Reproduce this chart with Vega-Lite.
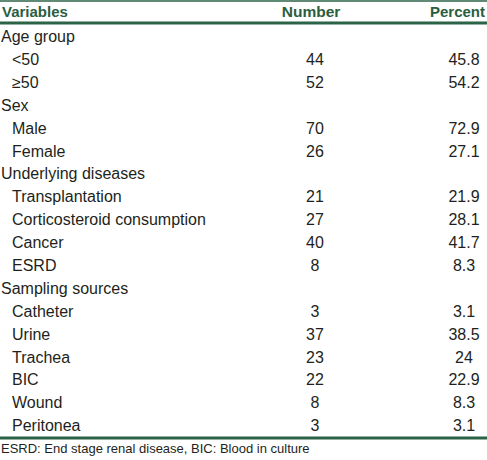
{
  "$schema": "https://vega.github.io/schema/vega-lite/v6.json",
  "width": 487,
  "height": 460,
  "padding": 0,
  "autosize": "none",
  "background": "white",
  "config": {"view": {"stroke": null}},
  "datasets": {
    "rows": [
      {"row": 1, "level": 0, "label": "Age group", "number": null, "percent": null},
      {"row": 2, "level": 1, "label": "<50", "number": "44", "percent": "45.8"},
      {"row": 3, "level": 1, "label": "≥50", "number": "52", "percent": "54.2"},
      {"row": 4, "level": 0, "label": "Sex", "number": null, "percent": null},
      {"row": 5, "level": 1, "label": "Male", "number": "70", "percent": "72.9"},
      {"row": 6, "level": 1, "label": "Female", "number": "26", "percent": "27.1"},
      {"row": 7, "level": 0, "label": "Underlying diseases", "number": null, "percent": null},
      {"row": 8, "level": 1, "label": "Transplantation", "number": "21", "percent": "21.9"},
      {"row": 9, "level": 1, "label": "Corticosteroid consumption", "number": "27", "percent": "28.1"},
      {"row": 10, "level": 1, "label": "Cancer", "number": "40", "percent": "41.7"},
      {"row": 11, "level": 1, "label": "ESRD", "number": "8", "percent": "8.3"},
      {"row": 12, "level": 0, "label": "Sampling sources", "number": null, "percent": null},
      {"row": 13, "level": 1, "label": "Catheter", "number": "3", "percent": "3.1"},
      {"row": 14, "level": 1, "label": "Urine", "number": "37", "percent": "38.5"},
      {"row": 15, "level": 1, "label": "Trachea", "number": "23", "percent": "24"},
      {"row": 16, "level": 1, "label": "BIC", "number": "22", "percent": "22.9"},
      {"row": 17, "level": 1, "label": "Wound", "number": "8", "percent": "8.3"},
      {"row": 18, "level": 1, "label": "Peritonea", "number": "3", "percent": "3.1"}
    ],
    "header": [{"row": -0.1, "c1": "Variables", "c2": "Number", "c3": "Percent"}],
    "footer": [{"row": 19, "note": "ESRD: End stage renal disease, BIC: Blood in culture"}],
    "rules": [{"rule": "top", "row": -0.572}, {"rule": "head", "row": 0.389}, {"rule": "bottom", "row": 18.51}]
  },
  "layer": [
    {
      "data": {"name": "rules"},
      "transform": [{"filter": "datum.rule == 'top'"}],
      "mark": {"type": "rule", "color": "#2b6347", "strokeWidth": 1.5},
      "encoding": {"y": {"field": "row", "type": "quantitative", "scale": {"domain": [-0.616, 19.472], "reverse": true, "nice": false, "zero": false}, "axis": null}}
    },
    {
      "data": {"name": "rules"},
      "transform": [{"filter": "datum.rule != 'top'"}],
      "mark": {"type": "rule", "color": "#2b6347", "strokeWidth": 3},
      "encoding": {"y": {"field": "row", "type": "quantitative", "axis": null}}
    },
    {
      "data": {"name": "header"},
      "mark": {"type": "text", "align": "left", "baseline": "middle", "font": "Liberation Sans", "fontSize": 15, "fontWeight": "bold", "color": "#2b5e3f"},
      "encoding": {
        "x": {"datum": 2, "type": "quantitative", "scale": {"domain": [0, 487], "nice": false, "zero": false}, "axis": null},
        "y": {"field": "row", "type": "quantitative", "axis": null},
        "text": {"field": "c1"}
      }
    },
    {
      "data": {"name": "header"},
      "mark": {"type": "text", "align": "center", "baseline": "middle", "font": "Liberation Sans", "fontSize": 15.5, "fontWeight": "bold", "color": "#2b5e3f"},
      "encoding": {
        "x": {"datum": 311, "type": "quantitative"},
        "y": {"field": "row", "type": "quantitative"},
        "text": {"field": "c2"}
      }
    },
    {
      "data": {"name": "header"},
      "mark": {"type": "text", "align": "right", "baseline": "middle", "font": "Liberation Sans", "fontSize": 15, "fontWeight": "bold", "color": "#2b5e3f"},
      "encoding": {
        "x": {"datum": 485, "type": "quantitative"},
        "y": {"field": "row", "type": "quantitative"},
        "text": {"field": "c3"}
      }
    },
    {
      "data": {"name": "rows"},
      "transform": [{"filter": "datum.level == 0"}],
      "mark": {"type": "text", "align": "left", "baseline": "middle", "font": "Liberation Sans", "fontSize": 16, "color": "#231f20"},
      "encoding": {
        "x": {"datum": 1, "type": "quantitative"},
        "y": {"field": "row", "type": "quantitative"},
        "text": {"field": "label"}
      }
    },
    {
      "data": {"name": "rows"},
      "transform": [{"filter": "datum.level == 1"}],
      "mark": {"type": "text", "align": "left", "baseline": "middle", "font": "Liberation Sans", "fontSize": 16, "color": "#231f20"},
      "encoding": {
        "x": {"datum": 12, "type": "quantitative"},
        "y": {"field": "row", "type": "quantitative"},
        "text": {"field": "label"}
      }
    },
    {
      "data": {"name": "rows"},
      "transform": [{"filter": "datum.number != null"}],
      "mark": {"type": "text", "align": "center", "baseline": "middle", "font": "Liberation Sans", "fontSize": 16, "color": "#231f20"},
      "encoding": {
        "x": {"datum": 315, "type": "quantitative"},
        "y": {"field": "row", "type": "quantitative"},
        "text": {"field": "number"}
      }
    },
    {
      "data": {"name": "rows"},
      "transform": [{"filter": "datum.percent != null"}],
      "mark": {"type": "text", "align": "center", "baseline": "middle", "font": "Liberation Sans", "fontSize": 16, "color": "#231f20"},
      "encoding": {
        "x": {"datum": 464, "type": "quantitative"},
        "y": {"field": "row", "type": "quantitative"},
        "text": {"field": "percent"}
      }
    },
    {
      "data": {"name": "footer"},
      "mark": {"type": "text", "align": "left", "baseline": "middle", "font": "Liberation Sans", "fontSize": 13, "color": "#231f20"},
      "encoding": {
        "x": {"datum": 1, "type": "quantitative"},
        "y": {"field": "row", "type": "quantitative"},
        "text": {"field": "note"}
      }
    }
  ]
}
